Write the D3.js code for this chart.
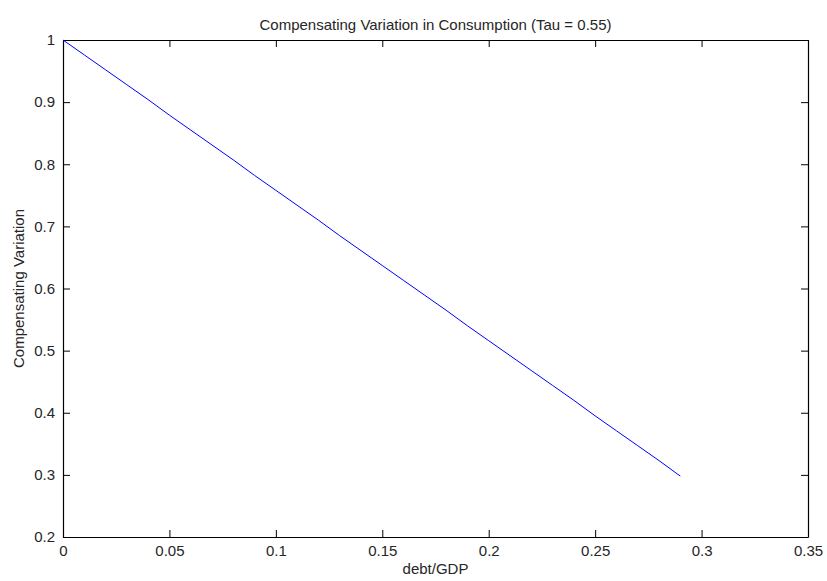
<!DOCTYPE html>
<html>
<head>
<meta charset="utf-8">
<script src="https://cdn.jsdelivr.net/npm/d3@7"></script>
<style>
  html, body { margin: 0; padding: 0; background: #fff; }
  text { font-family: "Liberation Sans", Arial, sans-serif; }
</style>
</head>
<body>
<svg id="chart" width="827" height="581"></svg>
<script>
// ---- data ----
const debtGDP = [0.00, 0.01, 0.02, 0.03, 0.04, 0.05, 0.06, 0.07, 0.08, 0.09,
                 0.10, 0.11, 0.12, 0.13, 0.14, 0.15, 0.16, 0.17, 0.18, 0.19,
                 0.20, 0.21, 0.22, 0.23, 0.24, 0.25, 0.26, 0.27, 0.28, 0.29];
const compVar = [1.000, 0.976, 0.952, 0.928, 0.904, 0.879, 0.855, 0.831, 0.807, 0.782,
                 0.758, 0.734, 0.710, 0.685, 0.661, 0.637, 0.613, 0.589, 0.565, 0.540,
                 0.516, 0.492, 0.468, 0.444, 0.420, 0.395, 0.371, 0.347, 0.323, 0.298];
const xTicks = [0, 0.05, 0.1, 0.15, 0.2, 0.25, 0.3, 0.35];
const yTicks = [0.2, 0.3, 0.4, 0.5, 0.6, 0.7, 0.8, 0.9, 1];
const titleText = "Compensating Variation in Consumption (Tau = 0.55)";
const xLabel = "debt/GDP";
const yLabel = "Compensating Variation";

// ---- layout ----
const svg = d3.select("#chart");
const margin = {left: 63, right: 19, top: 40, bottom: 44};
const W = 827, H = 581;
const x = d3.scaleLinear().domain([0, 0.35]).range([margin.left, W - margin.right]);
const y = d3.scaleLinear().domain([0.2, 1]).range([H - margin.bottom, margin.top]);
const tickLen = 7;
const fmt = d => String(+d.toFixed(2));
const fontSize = 15;
const textColor = "#262626";

// bottom axis
svg.append("g").attr("transform", `translate(0,${y(0.2)})`)
  .call(d3.axisBottom(x).tickValues(xTicks).tickFormat(fmt).tickSizeInner(-tickLen).tickSizeOuter(0).tickPadding(8));
// top axis
svg.append("g").attr("transform", `translate(0,${y(1)})`)
  .call(d3.axisTop(x).tickValues(xTicks).tickFormat("").tickSizeInner(-tickLen).tickSizeOuter(0));
// left axis
svg.append("g").attr("transform", `translate(${x(0)},0)`)
  .call(d3.axisLeft(y).tickValues(yTicks).tickFormat(fmt).tickSizeInner(-tickLen).tickSizeOuter(0).tickPadding(8));
// right axis
svg.append("g").attr("transform", `translate(${x(0.35)},0)`)
  .call(d3.axisRight(y).tickValues(yTicks).tickFormat("").tickSizeInner(-tickLen).tickSizeOuter(0));

svg.selectAll(".domain").attr("stroke", "#000").attr("stroke-width", 1.2);
svg.selectAll(".tick line").attr("stroke", "#000").attr("stroke-width", 1);
svg.selectAll(".tick text").attr("font-size", fontSize).attr("fill", textColor)
  .attr("font-family", '"Liberation Sans", Arial, sans-serif');

// line
const line = d3.line().x((d, i) => x(debtGDP[i])).y(d => y(d));
svg.append("path").datum(compVar)
  .attr("fill", "none").attr("stroke", "#0000ff").attr("stroke-width", 1)
  .attr("d", line);

// title and labels
svg.append("text").attr("x", (x(0) + x(0.35)) / 2).attr("y", 30)
  .attr("text-anchor", "middle").attr("font-size", fontSize).attr("fill", textColor)
  .text(titleText);
svg.append("text").attr("x", (x(0) + x(0.35)) / 2).attr("y", 574)
  .attr("text-anchor", "middle").attr("font-size", fontSize).attr("fill", textColor)
  .text(xLabel);
svg.append("text").attr("transform", `translate(24,${(y(0.2) + y(1)) / 2}) rotate(-90)`)
  .attr("text-anchor", "middle").attr("font-size", fontSize).attr("fill", textColor)
  .text(yLabel);
</script>
</body>
</html>
